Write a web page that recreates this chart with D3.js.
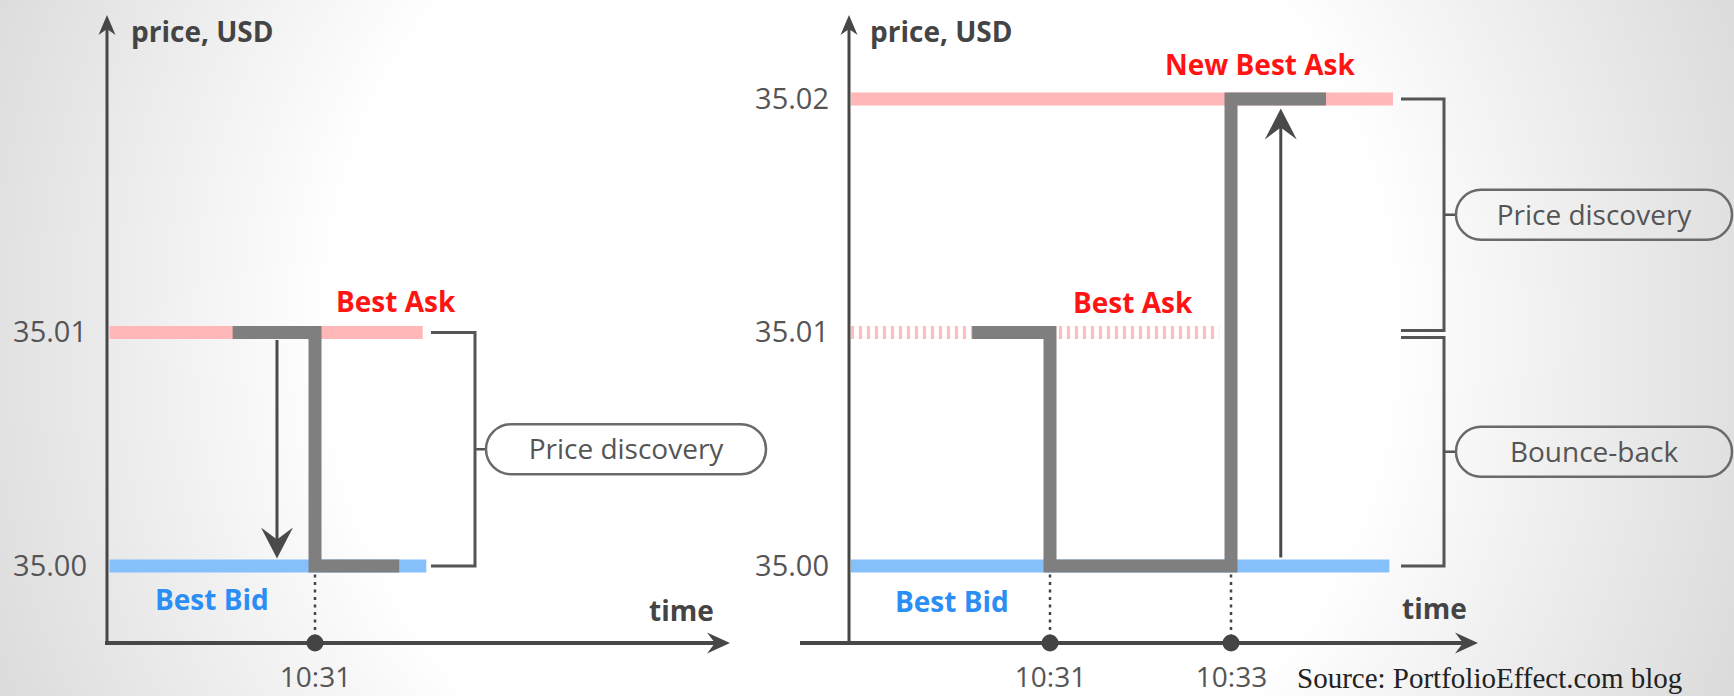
<!DOCTYPE html>
<html><head><meta charset="utf-8">
<script src="https://cdn.jsdelivr.net/npm/d3@7"></script>
<style>html,body{margin:0;padding:0;overflow:hidden;background:#fff}svg{display:block}</style>
</head><body>
<svg id="c" width="1734" height="696"></svg>
<script>
// ---------- data (time in minutes after 10:00, price in USD) ----------
const priceTicksLeft = [35.00, 35.01];
const priceTicksRight = [35.00, 35.01, 35.02];
const timeTicksLeft = [31];
const timeTicksRight = [31, 33];
const timeTickLabelsLeft = ["10:31"];
const timeTickLabelsRight = ["10:31", "10:33"];

// quote lines: [price, startTime, endTime]
const leftAsk = [35.01, 28.73, 32.19];
const leftBid = [35.00, 28.73, 32.23];
const rightNewAsk = [35.02, 28.80, 34.79];
const rightOldAsk = [35.01, 28.80, 32.87];
const rightBid = [35.00, 28.80, 34.75];

// traded price step paths: [time, price]
const leftStep = [[30.09, 35.01], [31, 35.01], [31, 35.00], [31.93, 35.00]];
const rightStep = [[30.14, 35.01], [31, 35.01], [31, 35.00], [33, 35.00], [33, 35.02], [34.05, 35.02]];

// move arrows: [time, fromPrice, toPrice]
const leftMove = [30.58, 35.01, 35.00];
const rightMove = [33.55, 35.00, 35.02];

// bracket annotations: [topPrice, bottomPrice, label]
const leftBrackets = [[35.01, 35.00, "Price discovery"]];
const rightBrackets = [[35.02, 35.01, "Price discovery"], [35.01, 35.00, "Bounce-back"]];

// ---------- drawing ----------
const svg = d3.select("#c");
const defs = svg.append("defs");
const grad = defs.append("radialGradient").attr("id", "bg")
  .attr("gradientUnits", "userSpaceOnUse")
  .attr("cx", 860).attr("cy", 330).attr("r", 960);
grad.append("stop").attr("offset", 0).attr("stop-color", "#ffffff");
grad.append("stop").attr("offset", 0.55).attr("stop-color", "#ffffff");
grad.append("stop").attr("offset", 1).attr("stop-color", "#d9d9d9");
svg.append("rect").attr("width", 1734).attr("height", 696).attr("fill", "url(#bg)");

const FONT = "'Open Sans', 'DejaVu Sans', sans-serif";
const AXIS = "#474747";
const y = d3.scaleLinear().domain([35.00, 35.02]).range([566, 99]);
const xAxisY = 643, yAxisTop = 15;
const BAND = 13;

function arrowHead(g, x, yTip, dir, w, len, notch, color) {
  let pts;
  if (dir === "down") pts = [[x, yTip], [x - w / 2, yTip - len], [x, yTip - notch], [x + w / 2, yTip - len]];
  else if (dir === "up") pts = [[x, yTip], [x - w / 2, yTip + len], [x, yTip + notch], [x + w / 2, yTip + len]];
  else pts = [[x, yTip], [x - len, yTip - w / 2], [x - notch, yTip], [x - len, yTip + w / 2]];
  g.append("path").attr("d", "M" + pts.map(p => p.join(",")).join("L") + "Z").attr("fill", color);
}

function panel(cfg) {
  const g = svg.append("g");
  const x = d3.scaleLinear().domain([31, 33]).range(cfg.xRange);

  // quote bands
  cfg.quotes.forEach(q => {
    const line = g.append("line")
      .attr("x1", x(q.d[1])).attr("x2", x(q.d[2]))
      .attr("y1", y(q.d[0])).attr("y2", y(q.d[0]))
      .attr("stroke", q.color).attr("stroke-width", BAND);
    if (q.dash) line.attr("stroke-dasharray", "3.2,4.8");
  });

  // step path
  g.append("path")
    .attr("d", d3.line().x(d => x(d[0])).y(d => y(d[1]))(cfg.step))
    .attr("fill", "none").attr("stroke", "#7f7f7f").attr("stroke-width", BAND)
    .attr("stroke-linejoin", "miter").attr("stroke-linecap", "butt");

  // move arrow
  const m = cfg.move;
  const down = m[2] < m[1];
  const yStart = y(m[1]) + (down ? BAND / 2 + 1 : -BAND / 2 - 2);
  const yTip = y(m[2]) + (down ? -BAND / 2 - 1 : BAND / 2 + 3);
  g.append("line").attr("x1", x(m[0])).attr("x2", x(m[0]))
    .attr("y1", yStart).attr("y2", yTip + (down ? -10 : 10))
    .attr("stroke", "#4a4a4a").attr("stroke-width", 3);
  arrowHead(g, x(m[0]), yTip, down ? "down" : "up", 32, 31, 19, "#4a4a4a");

  // dotted time guides
  cfg.timeTicks.forEach(t => {
    g.append("line").attr("x1", x(t)).attr("x2", x(t))
      .attr("y1", y(35.00) + BAND / 2 + 2).attr("y2", xAxisY)
      .attr("stroke", "#444").attr("stroke-width", 2.5).attr("stroke-dasharray", "3,4.5");
  });

  // y axis (ticks via d3)
  const ya = g.append("g").attr("transform", `translate(${cfg.yAxisX},0)`)
    .call(d3.axisLeft(y).tickValues(cfg.priceTicks).tickFormat(d3.format(".2f")).tickSize(0).tickPadding(20));
  ya.select(".domain").remove();
  ya.selectAll("text").attr("font-family", FONT).attr("font-size", 29).attr("fill", "#555");

  // x axis (ticks via d3)
  const xa = g.append("g").attr("transform", `translate(0,${xAxisY})`)
    .call(d3.axisBottom(x).tickValues(cfg.timeTicks)
      .tickFormat((d, i) => cfg.timeLabels[i]).tickSize(0).tickPadding(24));
  xa.select(".domain").remove();
  xa.selectAll("text").attr("font-family", FONT).attr("font-size", 28).attr("fill", "#555");

  // axis lines with arrowheads
  g.append("line").attr("x1", cfg.yAxisX).attr("x2", cfg.yAxisX)
    .attr("y1", xAxisY + 1).attr("y2", yAxisTop + 12)
    .attr("stroke", AXIS).attr("stroke-width", 3);
  arrowHead(g, cfg.yAxisX, yAxisTop, "up", 17, 20, 14, AXIS);
  g.append("line").attr("x1", cfg.xAxisStart).attr("x2", cfg.xAxisEnd - 12)
    .attr("y1", xAxisY).attr("y2", xAxisY)
    .attr("stroke", AXIS).attr("stroke-width", 4);
  arrowHead(g, cfg.xAxisEnd, xAxisY, "right", 21, 23, 15, AXIS);
  cfg.timeTicks.forEach(t => {
    g.append("circle").attr("cx", x(t)).attr("cy", xAxisY).attr("r", 8.5).attr("fill", "#444");
  });

  // brackets and label pills
  cfg.brackets.forEach((b, i) => {
    const yt = y(b[0]) + (i > 0 ? 5 : 0), yb = y(b[1]) - (i === 0 && cfg.brackets.length > 1 ? 2 : 0);
    const bx0 = cfg.bracketX0, bx1 = cfg.bracketX1;
    g.append("path").attr("d", `M${bx0},${yt}H${bx1}V${yb}H${bx0}`)
      .attr("fill", "none").attr("stroke", "#555").attr("stroke-width", 3);
    const ym = (yt + yb) / 2;
    g.append("line").attr("x1", bx1).attr("x2", cfg.boxX).attr("y1", ym).attr("y2", ym)
      .attr("stroke", "#555").attr("stroke-width", 2.5);
    g.append("rect").attr("x", cfg.boxX).attr("y", ym - 25).attr("width", cfg.boxW).attr("height", 50)
      .attr("rx", 25).attr("fill", "none").attr("stroke", "#6a6a6a").attr("stroke-width", 2.5);
    g.append("text").attr("x", cfg.boxX + cfg.boxW / 2).attr("y", ym + 10)
      .attr("text-anchor", "middle").attr("font-family", FONT).attr("font-size", 28)
      .attr("fill", "#555").text(b[2]);
  });

  // text labels
  cfg.labels.forEach(l => {
    g.append("text").attr("x", l.x).attr("y", l.y).attr("font-family", FONT)
      .attr("font-weight", "bold").attr("font-size", 28).attr("fill", l.color).text(l.t);
  });
}

const RED = "#ff1414", BLUE = "#2b8ef5", DARK = "#444";
const PINK = "#ffb7b7", LBLUE = "#86c0fb";

panel({
  xRange: [315, 496], yAxisX: 107, xAxisStart: 105, xAxisEnd: 730,
  priceTicks: priceTicksLeft, timeTicks: timeTicksLeft, timeLabels: timeTickLabelsLeft,
  quotes: [{ d: leftAsk, color: PINK }, { d: leftBid, color: LBLUE }],
  step: leftStep, move: leftMove,
  brackets: leftBrackets, bracketX0: 431, bracketX1: 475, boxX: 486, boxW: 280,
  labels: [
    { t: "price, USD", x: 131, y: 42, color: DARK },
    { t: "Best Ask", x: 336, y: 312, color: RED },
    { t: "Best Bid", x: 155, y: 610, color: BLUE },
    { t: "time", x: 649, y: 621, color: DARK }
  ]
});

panel({
  xRange: [1050, 1231], yAxisX: 849, xAxisStart: 800, xAxisEnd: 1478,
  priceTicks: priceTicksRight, timeTicks: timeTicksRight, timeLabels: timeTickLabelsRight,
  quotes: [{ d: rightNewAsk, color: PINK }, { d: rightOldAsk, color: "#ffbdbd", dash: true }, { d: rightBid, color: LBLUE }],
  step: rightStep, move: rightMove,
  brackets: rightBrackets, bracketX0: 1401, bracketX1: 1444, boxX: 1456, boxW: 276,
  labels: [
    { t: "price, USD", x: 870, y: 42, color: DARK },
    { t: "New Best Ask", x: 1165, y: 75, color: RED },
    { t: "Best Ask", x: 1073, y: 313, color: RED },
    { t: "Best Bid", x: 895, y: 612, color: BLUE },
    { t: "time", x: 1402, y: 619, color: DARK }
  ]
});

svg.append("text").attr("x", 1297).attr("y", 688)
  .attr("font-family", "'Liberation Serif', 'DejaVu Serif', serif").attr("font-size", 29)
  .attr("fill", "#222").text("Source: PortfolioEffect.com blog");
</script>
</body></html>
